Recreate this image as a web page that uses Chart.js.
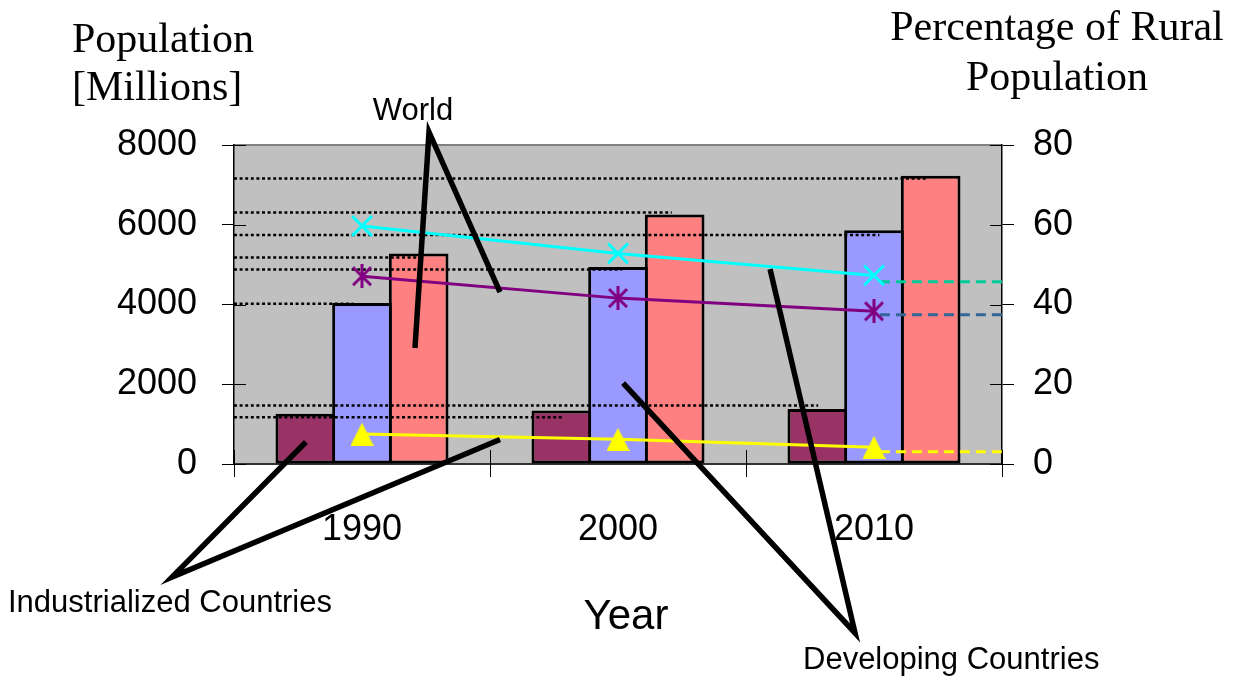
<!DOCTYPE html>
<html>
<head>
<meta charset="utf-8">
<title>Population and Rural Share</title>
<script src="https://cdn.jsdelivr.net/npm/chart.js@4.4.1/dist/chart.umd.min.js"></script>
<style>
  html, body { margin: 0; padding: 0; background: #fff; }
  canvas { display: block; }
</style>
</head>
<body>
<canvas id="chart" width="1245" height="680"></canvas>
<script>
// ---- data -------------------------------------------------------------
const years = ['1990', '2000', '2010'];

// population, millions
const industrialized = [1260, 1340, 1380];
const developing     = [4040, 4940, 5860];
const world          = [5280, 6260, 7230];

// rural share of population, percent
const ruralDeveloping     = [59.7, 52.8, 47.3];
const ruralWorld          = [47.1, 41.6, 38.3];
const ruralIndustrialized = [7.5, 6.2, 4.2];

// 2010 rural levels carried across to the right axis (developing, world, industrialized)
const ruralCarry = [45.7, 37.4, 3.1];

// dotted read-off lines from the population axis: level and where each stops (slot units)
const guideLevels = [7160, 6310, 5740, 5180, 4880, 4020, 1465, 1170];
const guideEnds   = [2.212, 1.210, 2.021, 0.214, 1.016, -0.034, 1.782, 0.780];

const populationTicks = [0, 2000, 4000, 6000, 8000];
const percentTicks    = [0, 20, 40, 60, 80];

// ---- styling ----------------------------------------------------------
const SANS  = "'Liberation Sans', Arial, Helvetica, sans-serif";
const SERIF = "'Liberation Serif', 'Times New Roman', serif";
const tickFont = { family: SANS, size: 36 };

const carryColors = ['#00CC99', '#336699', '#FFFF00'];
const CARRY_START = 2.023;

// callout leader lines: apex and two targets, in (slot, population) units
const callouts = [
  { apex: [0.2617, 8326],  targets: [[0.207, 2909], [0.539, 4313]] },   // World
  { apex: [-0.742, -2834], targets: [[-0.219, 552], [0.539, 615]] },    // Industrialized Countries
  { apex: [1.926, -4238],  targets: [[1.020, 2031], [1.594, 4890]] }    // Developing Countries
];

function markerCanvas(w, h, paint) {
  const c = document.createElement('canvas');
  c.width = w; c.height = h;
  paint(c.getContext('2d'), w, h);
  return c;
}
const starMarker = markerCanvas(22, 24, (g, w, h) => {
  g.strokeStyle = '#800080';
  g.lineWidth = 3;
  g.beginPath();
  g.moveTo(2, 3);  g.lineTo(w - 2, h - 3);
  g.moveTo(w - 2, 3); g.lineTo(2, h - 3);
  g.moveTo(w / 2, 0); g.lineTo(w / 2, h);
  g.stroke();
});
const triangleMarker = markerCanvas(23, 23, (g, w, h) => {
  g.fillStyle = '#FFFF00';
  g.beginPath();
  g.moveTo(w / 2, 0); g.lineTo(w, h); g.lineTo(0, h);
  g.closePath();
  g.fill();
});

// year i sits at x = i on the horizontal axis
const atSlots = values => values.map((v, i) => ({ x: i, y: v }));
const slotTicks = years.map((_, i) => i);
const slotEdges = [-0.5, 0.5, 1.5, 2.5];

// ---- plugins ----------------------------------------------------------
const plotFrame = {
  id: 'plotFrame',
  beforeDraw(chart) {
    const { ctx, chartArea: a } = chart;
    ctx.save();
    ctx.fillStyle = '#fff';
    ctx.fillRect(0, 0, chart.width, chart.height);
    ctx.fillStyle = '#C0C0C0';
    ctx.fillRect(a.left, a.top, a.right - a.left, a.bottom - a.top);
    ctx.strokeStyle = '#808080';
    ctx.lineWidth = 2;
    ctx.beginPath();
    ctx.moveTo(a.left, a.top);
    ctx.lineTo(a.right, a.top);
    ctx.stroke();
    ctx.restore();
  },
  afterDatasetsDraw(chart) {
    // crossing tick marks: inner halves on the value axes, full marks at the year boundaries
    const { ctx, chartArea: a, scales } = chart;
    ctx.save();
    ctx.strokeStyle = '#000';
    ctx.lineWidth = 1;
    ctx.beginPath();
    populationTicks.forEach(v => {
      const y = Math.round(scales.y.getPixelForValue(v)) + 0.5;
      ctx.moveTo(a.left, y); ctx.lineTo(a.left + 12, y);
    });
    percentTicks.forEach(v => {
      const y = Math.round(scales.y1.getPixelForValue(v)) + 0.5;
      ctx.moveTo(a.right - 12, y); ctx.lineTo(a.right, y);
    });
    slotEdges.forEach(s => {
      const x = Math.round(scales.x.getPixelForValue(s)) + 0.5;
      ctx.moveTo(x, a.bottom - 14); ctx.lineTo(x, a.bottom + 13);
    });
    ctx.stroke();
    ctx.restore();
  },
  afterDraw(chart) {
    const { ctx, scales } = chart;
    ctx.save();
    // callout leader lines
    ctx.strokeStyle = '#000';
    ctx.lineWidth = 5.5;
    ctx.lineJoin = 'miter';
    ctx.miterLimit = 12;
    callouts.forEach(c => {
      const px = p => [scales.x.getPixelForValue(p[0]), scales.y.getPixelForValue(p[1])];
      const [ax, ay] = px(c.apex);
      const [t1x, t1y] = px(c.targets[0]);
      const [t2x, t2y] = px(c.targets[1]);
      ctx.beginPath();
      ctx.moveTo(t1x, t1y);
      ctx.lineTo(ax, ay);
      ctx.lineTo(t2x, t2y);
      ctx.stroke();
    });

    ctx.fillStyle = '#000';
    ctx.textBaseline = 'alphabetic';

    // axis titles
    ctx.font = '42px ' + SERIF;
    ctx.textAlign = 'left';
    ctx.fillText('Population', 72, 52);
    ctx.fillText('[Millions]', 72, 100);
    ctx.textAlign = 'center';
    ctx.fillText('Percentage of Rural', 1057, 40);
    ctx.fillText('Population', 1057, 90);

    ctx.font = '42px ' + SANS;
    ctx.textBaseline = 'middle';
    ctx.fillText('Year', 626, 617);

    // callout labels
    ctx.font = '31px ' + SANS;
    ctx.textAlign = 'center';
    ctx.fillText('World', 413, 111);
    ctx.textAlign = 'left';
    ctx.fillText('Industrialized Countries', 8, 603);
    ctx.fillText('Developing Countries', 803, 660);
    ctx.restore();
  }
};

// ---- datasets ---------------------------------------------------------
const barStyle = {
  borderColor: '#000',
  borderWidth: 3,
  borderSkipped: false,
  categoryPercentage: 0.664,
  barPercentage: 1.053,
  yAxisID: 'y',
  order: 3
};

const datasets = [
  Object.assign({ label: 'Industrialized Countries', data: atSlots(industrialized), backgroundColor: '#993366' }, barStyle),
  Object.assign({ label: 'Developing Countries', data: atSlots(developing), backgroundColor: '#9999FF' }, barStyle),
  Object.assign({ label: 'World', data: atSlots(world), backgroundColor: '#FF8080' }, barStyle),
  {
    type: 'line', label: 'Rural % Developing', data: atSlots(ruralDeveloping), yAxisID: 'y1',
    borderColor: '#00FFFF', borderWidth: 3, tension: 0,
    pointStyle: 'crossRot', pointRadius: 14, pointBorderWidth: 3,
    pointBorderColor: '#00FFFF', pointBackgroundColor: '#00FFFF', order: 1
  },
  {
    type: 'line', label: 'Rural % World', data: atSlots(ruralWorld), yAxisID: 'y1',
    borderColor: '#800080', borderWidth: 3, tension: 0,
    pointStyle: starMarker, pointRadius: 11, order: 1
  },
  {
    type: 'line', label: 'Rural % Industrialized', data: atSlots(ruralIndustrialized), yAxisID: 'y1',
    borderColor: '#FFFF00', borderWidth: 3, tension: 0,
    pointStyle: triangleMarker, pointRadius: 12, order: 1
  }
];

ruralCarry.forEach((v, i) => {
  datasets.push({
    type: 'line', label: 'carry ' + i, yAxisID: 'y1',
    data: [{ x: CARRY_START, y: v }, { x: 2.5, y: v }],
    borderColor: carryColors[i], borderWidth: 3, borderDash: [10, 6],
    pointRadius: 0, order: 1
  });
});

guideLevels.forEach((v, i) => {
  datasets.push({
    type: 'line', label: 'guide ' + i, yAxisID: 'y',
    data: [{ x: -0.5, y: v }, { x: guideEnds[i], y: v }],
    borderColor: '#000', borderWidth: 2.5, borderDash: [3, 2.6],
    pointRadius: 0, order: 2
  });
});

const plainNumber = v => String(v);

// ---- chart ------------------------------------------------------------
new Chart(document.getElementById('chart'), {
  type: 'bar',
  data: { datasets },
  options: {
    responsive: false,
    animation: false,
    devicePixelRatio: 1,
    layout: { padding: { top: 145, left: 0, right: 0, bottom: 0 } },
    plugins: { legend: { display: false }, tooltip: { enabled: false } },
    scales: {
      x: {
        type: 'linear',
        min: -0.5, max: 2.5,
        offset: false,
        z: 1,
        afterBuildTicks: s => { s.ticks = slotTicks.map(v => ({ value: v })); },
        grid: { offset: false, drawOnChartArea: false, tickLength: 13, color: 'rgba(0,0,0,0)' },
        border: { color: '#333333', width: 2 },
        ticks: {
          font: tickFont, color: '#000', padding: 31, maxRotation: 0, autoSkip: false,
          callback: v => years[v]
        },
        afterFit: s => { s.height = 216; }
      },
      y: {
        position: 'left',
        min: 0, max: 8000,
        afterBuildTicks: s => { s.ticks = populationTicks.map(v => ({ value: v })); },
        grid: { drawOnChartArea: false, tickLength: 12, color: '#000', lineWidth: 1 },
        border: { color: '#000', width: 1.5 },
        ticks: { font: tickFont, color: '#000', padding: 25, callback: plainNumber },
        afterFit: s => { s.width = 234; }
      },
      y1: {
        position: 'right',
        min: 0, max: 80,
        afterBuildTicks: s => { s.ticks = percentTicks.map(v => ({ value: v })); },
        grid: { drawOnChartArea: false, tickLength: 12, color: '#000', lineWidth: 1 },
        border: { color: '#000', width: 1.5 },
        ticks: { font: tickFont, color: '#000', padding: 19, callback: plainNumber },
        afterFit: s => { s.width = 243; }
      }
    }
  },
  plugins: [plotFrame]
});
</script>
</body>
</html>
